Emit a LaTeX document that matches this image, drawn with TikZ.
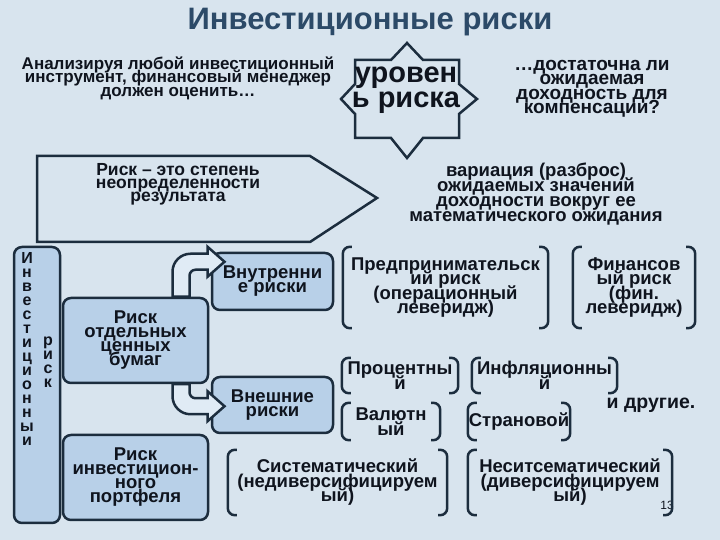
\documentclass[tikz,border=0pt]{standalone}
\usepackage{fontspec}
\setmainfont{Liberation Sans}
\usepackage{tikz}
\usetikzlibrary{positioning}
\setlength{\lineskiplimit}{-100pt}
\setlength{\lineskip}{0pt}
\definecolor{mybg}{RGB}{216,228,238}
\definecolor{myblue}{RGB}{184,208,232}
\definecolor{mylight}{RGB}{224,235,245}
\definecolor{mynavy}{RGB}{28,45,62}
\definecolor{mytitle}{RGB}{44,74,104}
\definecolor{mytext}{RGB}{15,20,30}
\tikzstyle{heading}=[text=mytitle,font=\bfseries\fontsize{31}{34}\selectfont]
\tikzstyle{txt}=[text=mytext,align=center,inner sep=0pt,font=\bfseries\fontsize{18.5}{14.5}\selectfont]
\tikzstyle{riskbox}=[draw=mynavy,fill=myblue,rounded corners=8pt,line width=2.5pt,text=mytext,align=center,inner sep=0pt,font=\bfseries\fontsize{18.5}{14}\selectfont]
\tikzstyle{vtext}=[text=mytext,align=center,inner sep=0pt,font=\bfseries\fontsize{16}{14}\selectfont]
\tikzstyle{brk}=[text=mytext,align=center,inner sep=0pt,font=\bfseries\fontsize{18.5}{14.5}\selectfont]
\tikzstyle{brline}=[draw=mynavy,line width=2.5pt,rounded corners=7pt]
\tikzstyle{outline}=[draw=mynavy,line width=2.5pt]
\tikzstyle{blockarrow}=[draw=mynavy,fill=mylight,line width=2.5pt]
\tikzstyle{pagenum}=[text=mytext,inner sep=0pt,font=\fontsize{12}{14}\selectfont]

\begin{document}
\begin{tikzpicture}[x=1pt,y=1pt]
\useasboundingbox (0,0) rectangle (720,540);
\fill[mybg] (0,0) rectangle (720,540);
% heading and top row
\draw (370,518) node [heading] (title) {Инвестиционные риски};
\draw (178,462) node [txt, font=\bfseries\fontsize{17}{13.5}\selectfont] (intro) {Анализируя любой инвестиционный\\инструмент, финансовый менеджер\\должен оценить…};
\coordinate (starc) at (407,441);
\draw[outline,shift={(starc)}] (-52,39) -- (-16,39) -- (0,56) -- (16,39) -- (52,39) -- (52,15) -- (70,0) -- (52,-15) -- (52,-39) -- (16,-39) -- (0,-59) -- (-16,-39) -- (-52,-39) -- (-52,-15) -- (-66,0) -- (-52,15) -- cycle;
\draw (406,450) node [txt, font=\bfseries\fontsize{29}{25}\selectfont] (level) {уровен\\ь риска};
\draw (592,451) node [txt, font=\bfseries\fontsize{19}{14.5}\selectfont] (question) {…достаточна ли\\ожидаемая\\доходность для\\компенсации?};
% definition
\draw[outline] (37,384) -- (310,384) -- (377,342) -- (310,298) -- (37,298) -- cycle;
\draw (178,356) node [txt, font=\bfseries\fontsize{17.5}{13}\selectfont] (defn) {Риск – это степень\\неопределенности\\результата};
\draw (536,346) node [txt, font=\bfseries\fontsize{18.5}{15}\selectfont] (spread) {вариация (разброс)\\ожидаемых значений\\доходности вокруг ее\\математического ожидания};
% left column
\draw (37,155) node [riskbox, minimum width=46pt, minimum height=276pt] (vbox) {};
\draw (27,191) node [vtext] (vcol) {И\\н\\в\\е\\с\\т\\и\\ц\\и\\о\\н\\н\\ы\\и};
\draw (48,178) node [vtext] (vcol2) {р\\и\\с\\к};
\draw (135.5,199.5) node [riskbox, minimum width=145pt, minimum height=85pt] (single) {Риск\\отдельных\\ценных\\бумаг};
\draw (135.5,62.5) node [riskbox, minimum width=145pt, minimum height=85pt] (portf) {Риск\\инвестицион-\\ного\\портфеля};
\draw (272.5,258.5) node [riskbox, minimum width=121pt, minimum height=57pt] (inrisk) {Внутренни\\е риски};
\draw (272.5,135) node [riskbox, minimum width=121pt, minimum height=56pt] (exrisk) {Внешние\\риски};
% curved block arrows
\draw[blockarrow] ([xshift=37pt]single.north) -- ++(0,25) arc[start angle=180,end angle=90,radius=18] -- ++(17,0) -- ++(0,7) -- ++(17,-15) -- ++(-17,-15) -- ++(0,7) -- ++(-12,0) arc[start angle=90,end angle=180,radius=6] -- ++(0,-21) -- cycle;
\draw[blockarrow] ([xshift=37pt]single.south) -- ++(0,-12) arc[start angle=180,end angle=270,radius=18] -- ++(17,0) -- ++(0,-7) -- ++(17,15) -- ++(-17,15) -- ++(0,-7) -- ++(-12,0) arc[start angle=270,end angle=180,radius=6] -- ++(0,8) -- cycle;
% kinds of risk
\draw (445.5,252.5) node [brk, minimum width=205pt, minimum height=81pt] (pred) {Предпринимательск\\ий риск\\(операционный\\леверидж)};
\draw (634,252.5) node [brk, minimum width=122pt, minimum height=81pt] (fin) {Финансов\\ый риск\\(фин.\\леверидж)};
\draw (400,164.5) node [brk, minimum width=116pt, minimum height=35pt] (proc) {Процентны\\й};
\draw (544.5,164.5) node [brk, minimum width=145pt, minimum height=35pt] (infl) {Инфляционны\\й};
\draw (391,118.5) node [brk, minimum width=98pt, minimum height=37pt] (val) {Валютн\\ый};
\draw (519,118.5) node [brk, minimum width=102pt, minimum height=37pt] (stran) {Страновой};
\draw (651,135) node [txt, font=\bfseries\fontsize{19.5}{14}\selectfont] (other) {и другие.};
\draw (337.5,57.5) node [brk, minimum width=219pt, minimum height=65pt] (sys) {Систематический\\(недиверсифицируем\\ый)};
\draw (570,57.5) node [brk, minimum width=204pt, minimum height=65pt] (nesys) {Неситсематический\\(диверсифицируем\\ый)};
\draw (667,35) node [pagenum] (page) {13};
% brackets
\draw[brline] ([xshift=9pt]pred.north west) -- (pred.north west) -- (pred.south west) -- ([xshift=9pt]pred.south west);
\draw[brline] ([xshift=-9pt]pred.north east) -- (pred.north east) -- (pred.south east) -- ([xshift=-9pt]pred.south east);
\draw[brline] ([xshift=9pt]fin.north west) -- (fin.north west) -- (fin.south west) -- ([xshift=9pt]fin.south west);
\draw[brline] ([xshift=-9pt]fin.north east) -- (fin.north east) -- (fin.south east) -- ([xshift=-9pt]fin.south east);
\draw[brline] ([xshift=9pt]proc.north west) -- (proc.north west) -- (proc.south west) -- ([xshift=9pt]proc.south west);
\draw[brline] ([xshift=-9pt]proc.north east) -- (proc.north east) -- (proc.south east) -- ([xshift=-9pt]proc.south east);
\draw[brline] ([xshift=9pt]infl.north west) -- (infl.north west) -- (infl.south west) -- ([xshift=9pt]infl.south west);
\draw[brline] ([xshift=-9pt]infl.north east) -- (infl.north east) -- (infl.south east) -- ([xshift=-9pt]infl.south east);
\draw[brline] ([xshift=9pt]val.north west) -- (val.north west) -- (val.south west) -- ([xshift=9pt]val.south west);
\draw[brline] ([xshift=-9pt]val.north east) -- (val.north east) -- (val.south east) -- ([xshift=-9pt]val.south east);
\draw[brline] ([xshift=9pt]stran.north west) -- (stran.north west) -- (stran.south west) -- ([xshift=9pt]stran.south west);
\draw[brline] ([xshift=-9pt]stran.north east) -- (stran.north east) -- (stran.south east) -- ([xshift=-9pt]stran.south east);
\draw[brline] ([xshift=9pt]sys.north west) -- (sys.north west) -- (sys.south west) -- ([xshift=9pt]sys.south west);
\draw[brline] ([xshift=-9pt]sys.north east) -- (sys.north east) -- (sys.south east) -- ([xshift=-9pt]sys.south east);
\draw[brline] ([xshift=9pt]nesys.north west) -- (nesys.north west) -- (nesys.south west) -- ([xshift=9pt]nesys.south west);
\draw[brline] ([xshift=-9pt]nesys.north east) -- (nesys.north east) -- (nesys.south east) -- ([xshift=-9pt]nesys.south east);
\end{tikzpicture}
\end{document}
